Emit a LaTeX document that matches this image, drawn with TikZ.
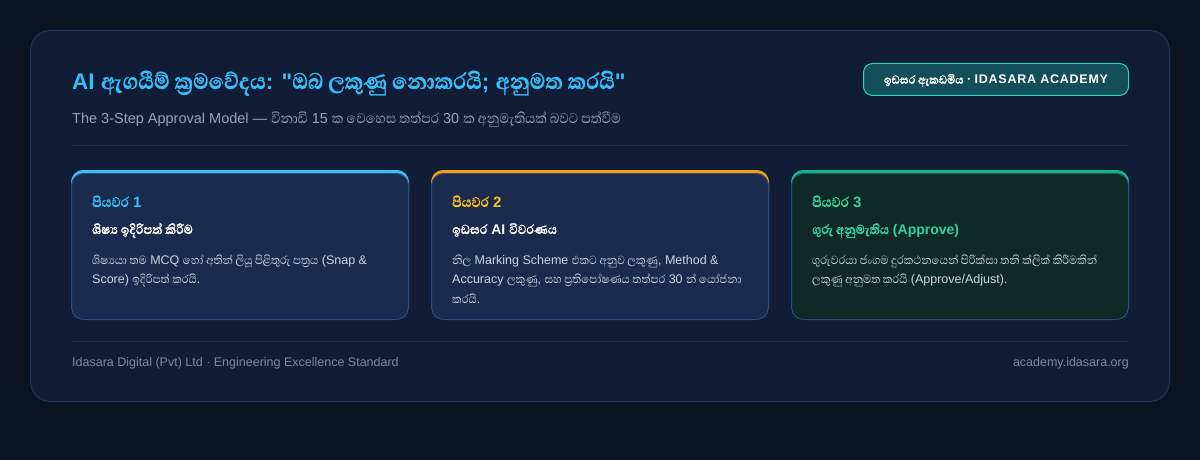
\documentclass[tikz,border=0pt]{standalone}
\usepackage{fontspec}
\setmainfont{Liberation Sans}
\newfontfamily\sifont[Script=Sinhala,Scale=1.2,FakeStretch=0.9,BoldFeatures={FakeBold=1.2}]{Abhaya Libre}
\newfontfamily\sitfont[Script=Sinhala,Scale=1.28,FakeStretch=0.9,BoldFeatures={FakeBold=1.2}]{Abhaya Libre}
\newfontfamily\sisfont[Script=Sinhala,Scale=1.25,FakeStretch=0.9]{Abhaya Libre}
\newcommand\si[1]{{\sifont #1}}
\newcommand\sit[1]{{\sitfont #1}}
\newcommand\sis[1]{{\sisfont #1}}
\newcommand\dq{{\addfontfeature{Ligatures=TeXOff}"}}
\definecolor{bgc}{HTML}{0B1322}
\definecolor{panel}{HTML}{111C36}
\definecolor{panelborder}{HTML}{22345A}
\definecolor{titlec}{HTML}{38BDF8}
\definecolor{subc}{HTML}{94A3B8}
\definecolor{badgefill}{HTML}{134E5A}
\definecolor{badgeborder}{HTML}{2DD4BF}
\definecolor{divc}{HTML}{1F2E4D}
\definecolor{cardc}{HTML}{1A2B4D}
\definecolor{cardgreen}{HTML}{0F2A26}
\definecolor{cardborder}{HTML}{2D4D80}
\definecolor{acc1}{HTML}{38BDF8}
\definecolor{acc2}{HTML}{F59E0B}
\definecolor{lab2}{HTML}{FBBF24}
\definecolor{acc3}{HTML}{10B981}
\definecolor{lab3}{HTML}{34D399}
\definecolor{bodyc}{HTML}{CBD5E1}
\definecolor{footc}{HTML}{7C8AA5}
\begin{document}
\begin{tikzpicture}[x=1pt,y=-1pt,
  txt/.style={anchor=base west,inner sep=0pt},
  steplabel/.style={txt,font=\fontsize{15}{18}\selectfont\bfseries},
  stephead/.style={txt,font=\fontsize{14}{17}\selectfont\bfseries,text=white},
  stepbody/.style={txt,font=\fontsize{12.5}{16}\selectfont,text=bodyc},
  cardbody/.style={rounded corners=12pt,draw=cardborder,line width=1pt},
  footer/.style={inner sep=0pt,font=\fontsize{12.5}{15}\selectfont,text=footc}]
\useasboundingbox (0,0) rectangle (1200,460);
\fill[bgc] (0,0) rectangle (1200,460);
\filldraw[fill=panel,draw=panelborder,line width=1pt,rounded corners=20pt] (30.5,30.5) rectangle (1169.5,401.5);
% title
\node[txt,font=\fontsize{22.5}{27}\selectfont\bfseries,text=titlec] (title) at (72,89)
  {AI \sit{ඇගයීම් ක්^^^^200dරමවේදය}: \dq\sit{ඔබ ලකුණු නොකරයි}; \sit{අනුමත කරයි}\dq};
\node[txt,font=\fontsize{14.5}{18}\selectfont,text=subc] (subtitle) at (72,124)
  {The 3-Step Approval Model — \sis{විනාඩි} 15 \sis{ක වෙහෙස තත්පර} 30 \sis{ක අනුමැතියක් බවට පත්වීම}};
% badge
\filldraw[fill=badgefill,draw=badgeborder,line width=1pt,rounded corners=9pt] (863.5,63.5) rectangle (1128.5,95.5);
\node[inner sep=0pt,font=\fontsize{12.5}{14}\selectfont\bfseries,text=white] (badge) at (996,80.5)
  {\si{ඉඩසර ඇකඩමිය} · {\addfontfeature{LetterSpace=6}IDASARA ACADEMY}};
% divider
\draw[divc,line width=1pt] (72,145.5) -- (1129,145.5);
% card 1
\fill[acc1] (71,192) [rounded corners=12pt] -- (71,170) -- (409,170) [sharp corners] -- (409,192) -- cycle;
\filldraw[cardbody,fill=cardc] (71.5,173.5) rectangle (408.5,319.5);
\node[steplabel,text=acc1] (l1) at (92,207) {\si{පියවර} 1};
\node[stephead] (h1) at (92,234) {\si{ශිෂ්^^^^200dය ඉදිරිපත් කිරීම}};
\node[stepbody] (b1a) at (92,264) {\si{ශිෂ්^^^^200dයයා තම} MCQ \si{හෝ අතින් ලියූ පිළිතුරු පත්^^^^200dරය} (Snap \&};
\node[stepbody] (b1b) at (92,283.5) {Score) \si{ඉදිරිපත් කරයි}.};
% card 2
\fill[acc2] (431,192) [rounded corners=12pt] -- (431,170) -- (769,170) [sharp corners] -- (769,192) -- cycle;
\filldraw[cardbody,fill=cardc] (431.5,173.5) rectangle (768.5,319.5);
\node[steplabel,text=lab2] (l2) at (452,207) {\si{පියවර} 2};
\node[stephead] (h2) at (452,234) {\si{ඉඩසර} AI \si{විවරණය}};
\node[stepbody] (b2a) at (452,264) {\si{නිල} Marking Scheme \si{එකට අනුව ලකුණු}, Method \&};
\node[stepbody] (b2b) at (452,283.5) {Accuracy \si{ලකුණු}, \si{සහ ප්^^^^200dරතිපෝෂණය තත්පර} 30 \si{න් යෝජනා}};
\node[stepbody] (b2c) at (452,303) {\si{කරයි}.};
% card 3
\fill[acc3] (791,192) [rounded corners=12pt] -- (791,170) -- (1129,170) [sharp corners] -- (1129,192) -- cycle;
\filldraw[cardbody,fill=cardgreen] (791.5,173.5) rectangle (1128.5,319.5);
\node[steplabel,text=lab3] (l3) at (812,207) {\si{පියවර} 3};
\node[stephead,text=lab3] (h3) at (812,234) {\si{ගුරු අනුමැතිය} (Approve)};
\node[stepbody] (b3a) at (812,264) {\si{ගුරුවරයා ජංගම දුරකථනයෙන් පිරික්සා තනි ක්ලික් කිරීමකින්}};
\node[stepbody] (b3b) at (812,283.5) {\si{ලකුණු අනුමත කරයි} (Approve/Adjust).};
% footer
\draw[divc,line width=1pt] (72,341.5) -- (1129,341.5);
\node[footer,anchor=base west] (f1) at (72,366) {Idasara Digital (Pvt) Ltd · Engineering Excellence Standard};
\node[footer,anchor=base east] (f2) at (1129,366) {academy.idasara.org};
\end{tikzpicture}
\end{document}
